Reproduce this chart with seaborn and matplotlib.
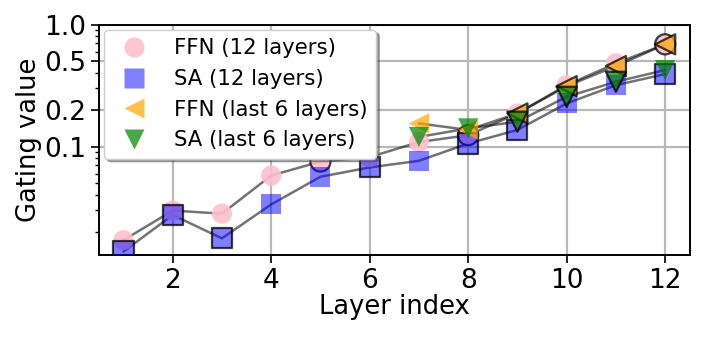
import numpy as np
import pandas as pd
import matplotlib
matplotlib.use("Agg")
import matplotlib.pyplot as plt
from matplotlib.lines import Line2D
from matplotlib.ticker import NullFormatter
import seaborn as sns

# layer indices
layers_all = list(range(1, 13))
layers_last6 = list(range(7, 13))

# gating values
ffn_12 = [0.0171, 0.0299, 0.0282, 0.0579, 0.0754, 0.082,
          0.109, 0.124, 0.187, 0.319, 0.481, 0.689]
sa_12 = [0.0138, 0.0275, 0.0177, 0.0336, 0.0566, 0.0675,
         0.0765, 0.106, 0.137, 0.226, 0.319, 0.393]
ffn_last6 = [0.155, 0.137, 0.187, 0.313, 0.457, 0.689]
sa_last6 = [0.120, 0.141, 0.160, 0.256, 0.340, 0.424]

# layers whose marker is drawn with a dark edge
ffn_12_edge = [5, 8, 12]
sa_12_edge = [1, 2, 3, 6, 8, 9, 12]
ffn_last6_edge = [9, 10, 11, 12]
sa_last6_edge = [9, 10, 11]

labels = ["FFN (12 layers)", "SA (12 layers)", "FFN (last 6 layers)", "SA (last 6 layers)"]
yticks = [0.1, 0.2, 0.5, 1.0]
ytick_labels = ["0.1", "0.2", "0.5", "1.0"]
xticks = [2, 4, 6, 8, 10, 12]

sns.set_style("ticks")
plt.rcParams["font.family"] = ["DejaVu Sans"]
plt.rcParams.update({"text.color": "k", "axes.labelcolor": "k",
                     "xtick.color": "k", "ytick.color": "k"})

fig, ax = plt.subplots(figsize=(7.06, 3.37), dpi=100)
fig.subplots_adjust(left=0.140, right=0.977, top=0.927, bottom=0.243)

series = [
    (layers_all, ffn_12, ffn_12_edge, "o", (1.0, 0.75, 0.80, 0.9)),
    (layers_all, sa_12, sa_12_edge, "s", (0.0, 0.0, 1.0, 0.5)),
    (layers_last6, ffn_last6, ffn_last6_edge, "<", (1.0, 0.65, 0.0, 0.7)),
    (layers_last6, sa_last6, sa_last6_edge, "v", (0.0, 0.5, 0.0, 0.7)),
]

# connecting lines
for xs, ys, _, _, _ in series:
    df = pd.DataFrame({"layer": xs, "gate": ys})
    sns.lineplot(data=df, x="layer", y="gate", ax=ax, color="k", alpha=0.55,
                 lw=1.8, zorder=3, legend=False)

# markers
for xs, ys, edge, mk, col in series:
    df = pd.DataFrame({"layer": xs, "gate": ys})
    ec = [(0, 0, 0, 0.75) if l in edge else "none" for l in xs]
    sns.scatterplot(data=df, x="layer", y="gate", ax=ax, marker=mk, s=210,
                    color=col, edgecolor=ec, linewidth=1.6, zorder=4, legend=False)

ax.set_yscale("log")
ax.set_ylim(0.0129, 1.0)
ax.set_xlim(0.5, 12.5)
ax.set_yticks(yticks)
ax.set_yticklabels(ytick_labels)
ax.yaxis.set_minor_formatter(NullFormatter())
ax.set_xticks(xticks)
ax.grid(True, which="major", color="#b8b8b8", lw=1.6)
ax.set_axisbelow(True)
ax.tick_params(axis="both", which="major", labelsize=19, length=5.5, width=1.2, pad=3.5)
ax.tick_params(axis="y", which="minor", length=3, width=1.0)
for sp in ax.spines.values():
    sp.set_visible(True)
    sp.set_linewidth(1.4)
    sp.set_color("k")

ax.set_xlabel("Layer index", fontsize=18.5, labelpad=0)
ax.set_ylabel("Gating value", fontsize=18.5, labelpad=2)

handles = [
    Line2D([], [], ls="", marker="o", ms=14.5, color=series[0][4], mec="none"),
    Line2D([], [], ls="", marker="s", ms=14.5, color=series[1][4], mec="none"),
    Line2D([], [], ls="", marker="<", ms=14.5, color=series[2][4], mec="none"),
    Line2D([], [], ls="", marker="v", ms=14.5, color=series[3][4], mec="none"),
]
leg = ax.legend(handles, labels, loc="upper left", bbox_to_anchor=(0.0, 1.0),
                borderaxespad=0.25, fontsize=15.3, shadow=True, fancybox=True,
                framealpha=1.0, handletextpad=0.9, edgecolor="#cccccc")

fig.savefig("out.png", dpi=100)
